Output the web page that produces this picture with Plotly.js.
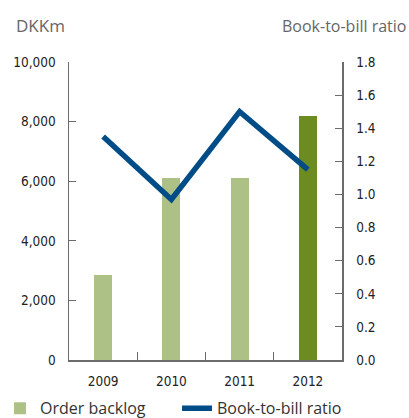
<!DOCTYPE html>
<html>
<head>
<meta charset="utf-8">
<script src="https://cdn.plot.ly/plotly-3.0.1.min.js"></script>
<style>
html,body{margin:0;padding:0;background:#fff;}
#chart{width:409px;height:418px;}
</style>
</head>
<body>
<div id="chart"></div>
<script>
var years = ['2009', '2010', '2011', '2012'];
var orderBacklog = [2850, 6100, 6100, 8200];
var bookToBill = [1.35, 0.97, 1.50, 1.15];
var barColors = ['#adc086', '#adc086', '#adc086', '#6c8c22'];
var leftTicks = [0, 2000, 4000, 6000, 8000, 10000];
var leftTickText = ['0', '2,000', '4,000', '6,000', '8,000', '10,000'];
var rightTicks = [0, 0.2, 0.4, 0.6, 0.8, 1.0, 1.2, 1.4, 1.6, 1.8];
var rightTickText = ['0.0', '0.2', '0.4', '0.6', '0.8', '1.0', '1.2', '1.4', '1.6', '1.8'];

var tickFont = {family: '"DejaVu Sans Condensed", "Open Sans", sans-serif', size: 13.5, color: '#222'};
var axisColor = '#6b6b6b';
var legendFont = {family: '"Open Sans", sans-serif', size: 16, color: '#333'};

var traces = [
  {
    type: 'bar', name: 'Order backlog', x: years, y: orderBacklog,
    marker: {color: barColors, line: {width: 0}}, width: 0.265,
    yaxis: 'y', hoverinfo: 'none', legend: 'legend'
  },
  {
    type: 'scatter', mode: 'lines', name: 'Book-to-bill ratio', x: years, y: bookToBill,
    line: {color: '#004c86', width: 5.5}, yaxis: 'y2', hoverinfo: 'none', legend: 'legend2'
  }
];

var layout = {
  width: 409, height: 418,
  margin: {l: 69, r: 67, t: 62, b: 58, pad: 0},
  paper_bgcolor: '#fff', plot_bgcolor: '#fff',
  showlegend: true,
  legend: {
    orientation: 'h', xref: 'container', yref: 'container',
    x: -0.01, xanchor: 'left', y: 0.064, yanchor: 'top',
    font: legendFont, itemwidth: 30
  },
  legend2: {
    orientation: 'h', xref: 'container', yref: 'container',
    x: 0.4328, xanchor: 'left', y: 0.064, yanchor: 'top',
    font: legendFont, itemwidth: 30
  },
  xaxis: {
    type: 'category', range: [-0.5, 3.5], tickson: 'boundaries',
    showline: true, linecolor: axisColor, linewidth: 1.5,
    ticks: 'inside', ticklen: 8, tickcolor: axisColor, tickwidth: 1.2,
    showgrid: false, zeroline: false, tickfont: tickFont, ticklabelstandoff: 8
  },
  yaxis: {
    range: [0, 10000], tickvals: leftTicks, ticktext: leftTickText,
    showline: true, linecolor: axisColor, linewidth: 1.5,
    ticks: 'inside', ticklen: 7, tickcolor: axisColor, tickwidth: 1.2,
    showgrid: false, zeroline: false, tickfont: tickFont, ticklabelstandoff: 9
  },
  yaxis2: {
    range: [0, 1.8], tickvals: rightTicks, ticktext: rightTickText,
    overlaying: 'y', side: 'right',
    showline: true, linecolor: axisColor, linewidth: 1.5,
    ticks: 'inside', ticklen: 7, tickcolor: axisColor, tickwidth: 1.2,
    showgrid: false, zeroline: false, tickfont: tickFont, ticklabelstandoff: 10
  },
  annotations: [
    {text: 'DKKm', xref: 'paper', yref: 'paper', x: -0.2015, y: 1.078, xanchor: 'left', yanchor: 'bottom',
     showarrow: false, font: {family: '"Open Sans", sans-serif', size: 17, color: '#666'}},
    {text: 'Book-to-bill ratio', xref: 'paper', yref: 'paper', x: 1.243, y: 1.078, xanchor: 'right', yanchor: 'bottom',
     showarrow: false, font: {family: '"Open Sans", sans-serif', size: 16, color: '#666'}}
  ],
  bargap: 0
};

Plotly.newPlot('chart', traces, layout, {displayModeBar: false, staticPlot: true});
</script>
</body>
</html>
